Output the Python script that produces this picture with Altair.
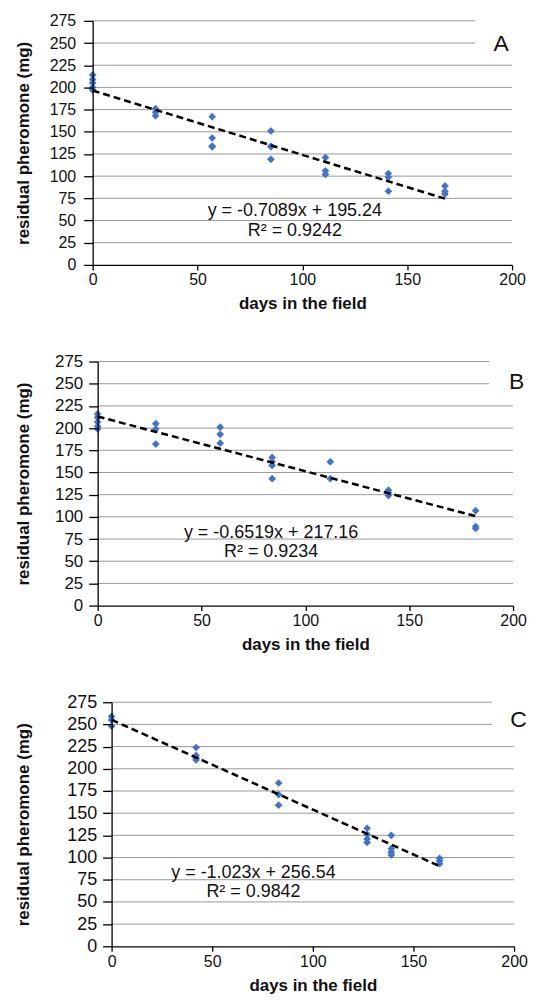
import altair as alt
import pandas as pd

FONT = "Liberation Sans"
BLUE = "#4472C4"

# ---------------- data ----------------
a_days = [0, 0, 0, 0, 0, 30, 30, 30, 57, 57, 57, 57, 85, 85, 85, 85,
          111, 111, 111, 141, 141, 141, 168, 168, 168]
a_mg = [214, 209, 205, 200, 197, 176, 172, 168, 167, 143, 134, 133,
        151, 134, 133, 119, 121, 106, 102, 103, 99, 83, 89, 83, 80]

b_days = [0, 0, 0, 0, 0, 28, 28, 28, 59, 59, 59, 84, 84, 84, 84,
          112, 112, 140, 140, 140, 182, 182, 182]
b_mg = [216, 212, 207, 202, 199, 205, 199, 182, 201, 193, 183,
        167, 162, 158, 143, 162, 143, 130, 127, 124, 107, 89, 87]

c_days = [0, 0, 0, 42, 42, 42, 42, 83, 83, 83, 127, 127, 127, 127,
          139, 139, 139, 139, 163, 163, 163]
c_mg = [259, 255, 248, 224, 215, 212, 210, 184, 171, 159,
        133, 126, 121, 117, 125, 110, 106, 103, 99, 96, 93]

a_eq = ["y = -0.7089x + 195.24", "R\u00b2 = 0.9242"]
b_eq = ["y = -0.6519x + 217.16", "R\u00b2 = 0.9234"]
c_eq = ["y = -1.023x + 256.54", "R\u00b2 = 0.9842"]

letters = ["A", "B", "C"]
y_ticks = [0, 25, 50, 75, 100, 125, 150, 175, 200, 225, 250, 275]
x_ticks = [0, 50, 100, 150, 200]


def spacer(h):
    return alt.Chart(pd.DataFrame({"s": [""]})).mark_text(opacity=0).encode(
        text="s:N"
    ).properties(width=1, height=h)


def panel(days, mg, eq, eq_pos, letter, letter_pos, short_end,
          w, h, ylab_size, title_pad, label_pad):
    xs = alt.Scale(domain=[0, 200], nice=False)
    ys = alt.Scale(domain=[0, 275], nice=False)
    xa = alt.Axis(values=x_ticks, title="days in the field",
                  grid=False, labelFlush=False, domain=True, ticks=True,
                  domainColor="#000000", tickColor="#000000",
                  domainWidth=1.3, tickWidth=1.3, zindex=1,
                  tickSize=5, labelPadding=2,
                  titlePadding=8, labelFontSize=16, titleFontSize=17)
    ya = alt.Axis(values=y_ticks, title="residual pheromone (mg)",
                  grid=False, labelFlush=False, domain=True, ticks=True,
                  domainColor="#000000", tickColor="#000000",
                  domainWidth=1.3, tickWidth=1.3, zindex=1,
                  tickSize=9, labelPadding=label_pad,
                  titlePadding=title_pad, labelFontSize=ylab_size,
                  titleFontSize=17)
    df = pd.DataFrame({"day": days, "mg": mg})

    grid_df = pd.DataFrame({
        "v": y_ticks[1:],
        "x1": [0] * (len(y_ticks) - 1),
        "x2": [short_end if v >= 250 else 200 for v in y_ticks[1:]],
    })
    grid = alt.Chart(grid_df).mark_rule(color="#9a9a9a", strokeWidth=1).encode(
        x=alt.X("x1:Q", scale=xs, axis=xa),
        x2="x2:Q",
        y=alt.Y("v:Q", scale=ys, axis=ya),
    )

    pts = alt.Chart(df).mark_point(
        shape="diamond", filled=True, size=60, color=BLUE, opacity=1
    ).encode(
        x=alt.X("day:Q", scale=xs, axis=xa),
        y=alt.Y("mg:Q", scale=ys, axis=ya),
    )

    trend = alt.Chart(df).transform_regression("day", "mg").mark_line(
        color="black", strokeDash=[7, 4], strokeWidth=2.5
    ).encode(
        x=alt.X("day:Q", scale=xs, axis=xa),
        y=alt.Y("mg:Q", scale=ys, axis=ya),
    )

    eq_df = pd.DataFrame({"t": eq, "x": [eq_pos[0]] * 2,
                          "y": [eq_pos[1], eq_pos[2]]})
    eq_text = alt.Chart(eq_df).mark_text(
        fontSize=18, font=FONT, align="center", baseline="middle",
        color="#111111"
    ).encode(
        x=alt.X("x:Q", scale=xs, axis=xa),
        y=alt.Y("y:Q", scale=ys, axis=ya),
        text="t:N",
    )

    let_df = pd.DataFrame({"t": [letter], "x": [letter_pos[0]],
                           "y": [letter_pos[1]]})
    let_text = alt.Chart(let_df).mark_text(
        fontSize=23, font=FONT, align="center", baseline="middle",
        color="#111111"
    ).encode(
        x=alt.X("x:Q", scale=xs, axis=xa),
        y=alt.Y("y:Q", scale=ys, axis=ya),
        text="t:N",
    )

    layered = alt.layer(grid, pts, trend, eq_text, let_text).properties(
        width=w, height=h
    )
    return alt.hconcat(spacer(h), layered, spacing=0)


pa = panel(a_days, a_mg, a_eq, (96.4, 60.6, 38.2), letters[0], (194.8, 249),
           182.4, 421, 245, 16, 17, 8)
pb = panel(b_days, b_mg, b_eq, (83.5, 82, 60.6), letters[1], (201.7, 251.4),
           188.5, 417, 245, 17, 22, 6)
pc = panel(c_days, c_mg, c_eq, (70.5, 82, 60.6), letters[2], (202.2, 254.8),
           189, 404, 245, 18, 34, 6)

chart = alt.vconcat(pa, pb, pc, spacing=41).properties(
    padding={"left": 5, "top": 3, "right": 0, "bottom": 0},
    background="white",
).configure_view(stroke=None).configure_axis(
    labelFont=FONT, titleFont=FONT, labelColor="#111111",
    titleColor="#111111", titleFontWeight="bold"
)

chart.save("out.html", embed_options={"renderer": "svg", "actions": False})
